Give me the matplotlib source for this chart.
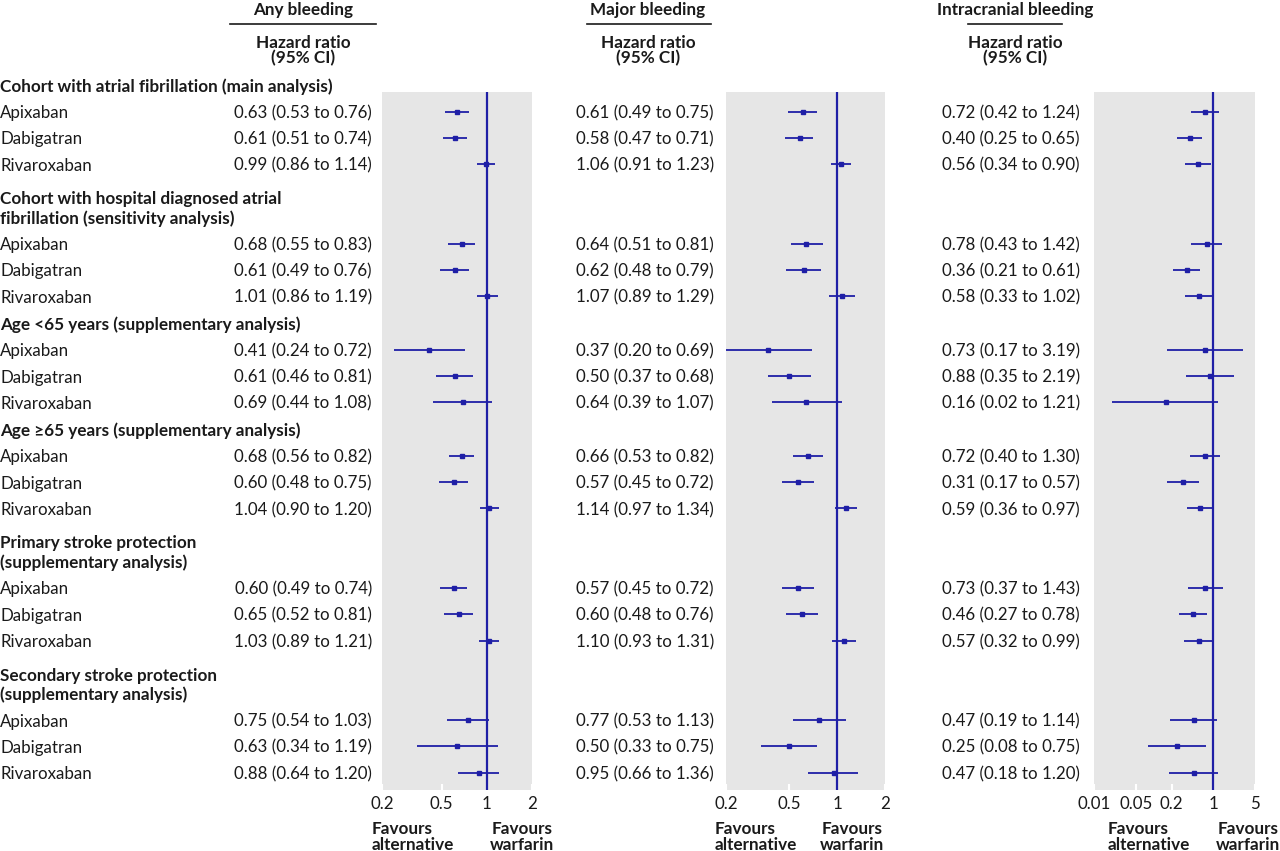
import matplotlib
matplotlib.use("Agg")
import matplotlib.pyplot as plt
from matplotlib.ticker import NullLocator, FixedLocator, FixedFormatter

# ---------------- data ----------------
group_titles = [
    "Cohort with atrial fibrillation (main analysis)",
    "Cohort with hospital diagnosed atrial\nfibrillation (sensitivity analysis)",
    "Age <65 years (supplementary analysis)",
    "Age \u226565 years (supplementary analysis)",
    "Primary stroke protection\n(supplementary analysis)",
    "Secondary stroke protection\n(supplementary analysis)",
]
drugs = ["Apixaban", "Dabigatran", "Rivaroxaban"]

outcomes = ["Any bleeding", "Major bleeding", "Intracranial bleeding"]

any_hr = [0.63, 0.61, 0.99, 0.68, 0.61, 1.01, 0.41, 0.61, 0.69,
          0.68, 0.60, 1.04, 0.60, 0.65, 1.03, 0.75, 0.63, 0.88]
any_lo = [0.53, 0.51, 0.86, 0.55, 0.49, 0.86, 0.24, 0.46, 0.44,
          0.56, 0.48, 0.90, 0.49, 0.52, 0.89, 0.54, 0.34, 0.64]
any_hi = [0.76, 0.74, 1.14, 0.83, 0.76, 1.19, 0.72, 0.81, 1.08,
          0.82, 0.75, 1.20, 0.74, 0.81, 1.21, 1.03, 1.19, 1.20]

major_hr = [0.61, 0.58, 1.06, 0.64, 0.62, 1.07, 0.37, 0.50, 0.64,
            0.66, 0.57, 1.14, 0.57, 0.60, 1.10, 0.77, 0.50, 0.95]
major_lo = [0.49, 0.47, 0.91, 0.51, 0.48, 0.89, 0.20, 0.37, 0.39,
            0.53, 0.45, 0.97, 0.45, 0.48, 0.93, 0.53, 0.33, 0.66]
major_hi = [0.75, 0.71, 1.23, 0.81, 0.79, 1.29, 0.69, 0.68, 1.07,
            0.82, 0.72, 1.34, 0.72, 0.76, 1.31, 1.13, 0.75, 1.36]

ich_hr = [0.72, 0.40, 0.56, 0.78, 0.36, 0.58, 0.73, 0.88, 0.16,
          0.72, 0.31, 0.59, 0.73, 0.46, 0.57, 0.47, 0.25, 0.47]
ich_lo = [0.42, 0.25, 0.34, 0.43, 0.21, 0.33, 0.17, 0.35, 0.02,
          0.40, 0.17, 0.36, 0.37, 0.27, 0.32, 0.19, 0.08, 0.18]
ich_hi = [1.24, 0.65, 0.90, 1.42, 0.61, 1.02, 3.19, 2.19, 1.21,
          1.30, 0.57, 0.97, 1.43, 0.78, 0.99, 1.14, 0.75, 1.20]

ticks_any = [0.2, 0.5, 1, 2]
ticks_major = [0.2, 0.5, 1, 2]
ticks_ich = [0.01, 0.05, 0.2, 1, 5]
tick_labels_any = ["0.2", "0.5", "1", "2"]
tick_labels_major = ["0.2", "0.5", "1", "2"]
tick_labels_ich = ["0.01", "0.05", "0.2", "1", "5"]
xlims = [(0.2, 2), (0.2, 2), (0.01, 5)]

# ---------------- style ----------------
W, H = 1280, 851
BLUE = "#1f1fa6"
GRAY = "#e6e6e6"
TXT = "#1a1a1a"
FONT = "Lato"
plt.rcParams["font.family"] = [FONT, "DejaVu Sans"]

fig = plt.figure(figsize=(W / 100, H / 100), dpi=100)
bg = fig.add_axes([0, 0, 1, 1])
bg.set_xlim(0, W)
bg.set_ylim(H, 0)
bg.axis("off")

# ---------------- layout (pixel units) ----------------
gray_top, gray_bottom = 92, 790
panel_x = [(382, 532), (726, 885), (1094, 1255)]
value_right = [372, 714, 1080]
head_center = [303, 648, 1015]
underline = [(230, 376), (587, 711), (968, 1062)]

row_step = 26.3
title_line = 19.5
row_y = []
title_pos = []
y = 85
for gi, t in enumerate(group_titles):
    lines = t.split("\n")
    title_pos.append((y, lines))
    last = y + (len(lines) - 1) * title_line
    r0 = last + 26.5
    for k in range(len(drugs)):
        row_y.append(r0 + k * row_step)
    if gi + 1 < len(group_titles):
        nxt = group_titles[gi + 1].count("\n") + 1
        y = row_y[-1] + (33.5 if nxt > 1 else 27)

TS = 12.2  # regular text size
BS = 12.3  # bold size
VA = "center_baseline"

# group titles and drug names
for (ty, lines) in title_pos:
    for li, ln in enumerate(lines):
        bg.text(0, ty + li * title_line, ln, fontsize=BS, fontweight="bold",
                color=TXT, va=VA, ha="left")
for gi in range(len(group_titles)):
    for k, d in enumerate(drugs):
        bg.text(0, row_y[gi * 3 + k], d, fontsize=TS, color=TXT,
                va=VA, ha="left")

# headers
for i, name in enumerate(outcomes):
    bg.text(head_center[i], 8, name, fontsize=BS, fontweight="bold",
            color=TXT, ha="center", va=VA)
    bg.plot(underline[i], [24, 24], color=TXT, lw=1.2)
    bg.text(head_center[i], 42, "Hazard ratio", fontsize=BS,
            fontweight="bold", color=TXT, ha="center", va=VA)
    bg.text(head_center[i], 57, "(95% CI)", fontsize=BS,
            fontweight="bold", color=TXT, ha="center", va=VA)

series = [(any_hr, any_lo, any_hi), (major_hr, major_lo, major_hi),
          (ich_hr, ich_lo, ich_hi)]
ticks = [ticks_any, ticks_major, ticks_ich]
tlabels = [tick_labels_any, tick_labels_major, tick_labels_ich]

for i, (hr, lo, hi) in enumerate(series):
    # value text
    for j in range(len(hr)):
        bg.text(value_right[i], row_y[j],
                f"{hr[j]:.2f} ({lo[j]:.2f} to {hi[j]:.2f})",
                fontsize=TS, color=TXT, ha="right", va=VA)
    x0, x1 = panel_x[i]
    ax = fig.add_axes([x0 / W, 1 - gray_bottom / H, (x1 - x0) / W,
                       (gray_bottom - gray_top) / H])
    ax.set_xscale("log")
    ax.set_xlim(*xlims[i])
    ax.set_ylim(gray_bottom, gray_top)
    ax.set_facecolor(GRAY)
    for s in ax.spines.values():
        s.set_visible(False)
    ax.axvline(1, color=BLUE, lw=1.6, zorder=2)
    ax.hlines(row_y, lo, hi, color=BLUE, lw=1.3, zorder=3, clip_on=False)
    ax.plot(hr, row_y, "s", color=BLUE, ms=3.3, zorder=4, clip_on=False)
    ax.xaxis.set_minor_locator(NullLocator())
    ax.xaxis.set_major_locator(FixedLocator(ticks[i]))
    ax.xaxis.set_major_formatter(FixedFormatter(tlabels[i]))
    ax.tick_params(axis="x", direction="in", length=4, width=1.5,
                   color="white", labelsize=TS, labelcolor=TXT, pad=4)
    ax.set_yticks([])

# favours labels
fav_left = [372, 715, 1108]
fav_right = [554, 884, 1280]
for i in range(3):
    bg.text(fav_left[i], 837, "Favours\nalternative", fontsize=BS,
            fontweight="bold", color=TXT, ha="left", va="center",
            linespacing=1.0)
    bg.text(fav_right[i], 837, "Favours\nwarfarin", fontsize=BS,
            fontweight="bold", color=TXT, ha="right", va="center",
            linespacing=1.0, multialignment="center")

fig.savefig("out.png", dpi=100)
